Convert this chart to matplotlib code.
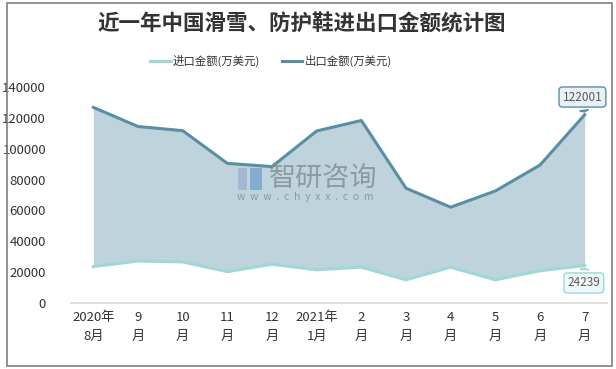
import matplotlib
matplotlib.use("Agg")
import matplotlib.pyplot as plt
from matplotlib.patches import Rectangle

plt.rcParams['font.family'] = ['Noto Sans CJK SC', 'DejaVu Sans']

months = ["2020年\n8月", "9\n月", "10\n月", "11\n月", "12\n月", "2021年\n1月",
          "2\n月", "3\n月", "4\n月", "5\n月", "6\n月", "7\n月"]
export_vals = [126800, 114400, 111700, 90500, 88400, 111500, 118300, 74400, 62100, 72600, 89400, 122001]
import_vals = [23600, 27200, 26600, 20300, 25100, 21500, 23200, 15000, 23200, 15000, 20900, 24239]
yticks = [0, 20000, 40000, 60000, 80000, 100000, 120000, 140000]

c_exp = "#5a8ea4"
c_imp = "#9fd8d8"
c_fill = "#bfd3dc"
c_txt = "#333333"

fig = plt.figure(figsize=(6.16, 3.69), dpi=100)
# outer border
fig.patches.append(Rectangle((7/616, 3/369), 605/616, 363/369, transform=fig.transFigure,
                             fill=False, ec="#7f7f7f", lw=1.2))

ax = fig.add_axes([71/616, 1-303/369, 536/616, 216/369])
x = list(range(len(months)))
ax.fill_between(x, import_vals, export_vals, color=c_fill, lw=0, zorder=1)
ax.plot(x, export_vals, color=c_exp, lw=2.2, zorder=3, label="出口金额(万美元)")
ax.plot(x, import_vals, color=c_imp, lw=2.2, zorder=3, label="进口金额(万美元)")

ax.set_xlim(-0.5, len(months) - 0.5)
ax.set_ylim(0, 140000)
ax.set_yticks(yticks)
ax.set_yticklabels([str(v) for v in yticks], fontsize=9.5, color=c_txt)
ax.set_xticks(x)
ax.set_xticklabels(months, fontsize=9.5, color=c_txt, linespacing=1.6)
ax.tick_params(axis='both', length=0)
ax.tick_params(axis='y', pad=18)
ax.tick_params(axis='x', pad=6)
for s in ['left', 'right', 'top']:
    ax.spines[s].set_visible(False)
ax.spines['bottom'].set_color("#d9d9d9")
ax.spines['bottom'].set_linewidth(1.2)

# callouts
ax.annotate(f"{export_vals[-1]}", xy=(x[-1], export_vals[-1]), xytext=(x[-1] - 0.05, 133500),
            ha='center', va='center', fontsize=8.5, color="#595959",
            bbox=dict(boxstyle="round,pad=0.3", fc="#e9f0f3", ec=c_exp, lw=1),
            arrowprops=dict(arrowstyle="wedge,tail_width=0.7,shrink_factor=0.5", fc="#e9f0f3", ec=c_exp, lw=1),
            zorder=5)
ax.annotate(f"{import_vals[-1]}", xy=(x[-1], import_vals[-1]), xytext=(x[-1] - 0.02, 13000),
            ha='center', va='center', fontsize=8.5, color="#595959",
            bbox=dict(boxstyle="round,pad=0.3", fc="#eef8f8", ec=c_imp, lw=1),
            arrowprops=dict(arrowstyle="wedge,tail_width=0.7,shrink_factor=0.5", fc="#eef8f8", ec=c_imp, lw=1),
            zorder=5)

# watermark
fig.patches.append(Rectangle((238/616, 1-190/369), 9/616, 22/369, transform=fig.transFigure,
                             fc="#9db3cc", ec="none", alpha=0.8, zorder=4))
fig.patches.append(Rectangle((250/616, 1-190/369), 12/616, 22/369, transform=fig.transFigure,
                             fc="#6f9bc9", ec="none", alpha=0.7, zorder=4))
fig.text(269/616, 1-178/369, "智研咨询", fontsize=19.5, color="#7f8c93", alpha=0.8,
         ha='left', va='center', zorder=4)
fig.text(237/616, 1-197/369, "w  w  w  .  c  h  y  x  x  .  c  o  m", fontsize=7.5, color="#7f8c93", alpha=0.8,
         ha='left', va='center', zorder=4)

# title
fig.text(0.49, 1-24/369, "近一年中国滑雪、防护鞋进出口金额统计图", fontsize=15.5, fontweight='bold',
         color=c_txt, ha='center', va='center')

# legend
handles, labels = ax.get_legend_handles_labels()
leg = fig.legend(handles[::-1], labels[::-1], loc='center left', bbox_to_anchor=(140/616, 1-61/369), ncol=2,
                 frameon=False, fontsize=8.2, handlelength=1.8, handletextpad=0.2, columnspacing=1.9,
                 labelcolor=c_txt)

fig.savefig("out.png", dpi=100)
